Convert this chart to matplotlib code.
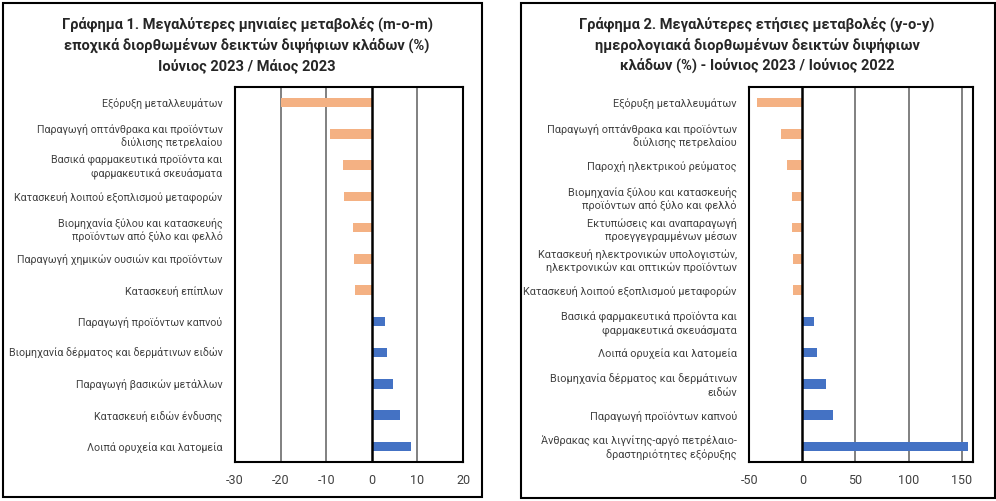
import matplotlib
matplotlib.use("Agg")
import matplotlib.pyplot as plt
from matplotlib.patches import Rectangle

plt.rcParams['font.family'] = ['Roboto', 'DejaVu Sans']

# Chart 1 data (m-o-m)
cats1 = ["Εξόρυξη μεταλλευμάτων",
         "Παραγωγή οπτάνθρακα και προϊόντων\nδιύλισης πετρελαίου",
         "Βασικά φαρμακευτικά προϊόντα και\nφαρμακευτικά σκευάσματα",
         "Κατασκευή λοιπού εξοπλισμού μεταφορών",
         "Βιομηχανία ξύλου και κατασκευής\nπροϊόντων από ξύλο και φελλό",
         "Παραγωγή χημικών ουσιών και προϊόντων",
         "Κατασκευή επίπλων",
         "Παραγωγή προϊόντων καπνού",
         "Βιομηχανία δέρματος και δερμάτινων ειδών",
         "Παραγωγή βασικών μετάλλων",
         "Κατασκευή ειδών ένδυσης",
         "Λοιπά ορυχεία και λατομεία"]
vals1 = [-19.9, -9.1, -6.4, -6.1, -4.2, -4.0, -3.6, 2.9, 3.4, 4.7, 6.2, 8.5]
ticks1 = [-30, -20, -10, 0, 10, 20]
title1 = "Γράφημα 1. Μεγαλύτερες μηνιαίες μεταβολές (m-o-m)\nεποχικά διορθωμένων δεικτών διψήφιων κλάδων (%)\nΙούνιος 2023 / Μάιος 2023"

# Chart 2 data (y-o-y)
cats2 = ["Εξόρυξη μεταλλευμάτων",
         "Παραγωγή οπτάνθρακα και προϊόντων\nδιύλισης πετρελαίου",
         "Παροχή ηλεκτρικού ρεύματος",
         "Βιομηχανία ξύλου και κατασκευής\nπροϊόντων από ξύλο και φελλό",
         "Εκτυπώσεις και αναπαραγωγή\nπροεγγεγραμμένων μέσων",
         "Κατασκευή ηλεκτρονικών υπολογιστών,\nηλεκτρονικών και οπτικών προϊόντων",
         "Κατασκευή λοιπού εξοπλισμού μεταφορών",
         "Βασικά φαρμακευτικά προϊόντα και\nφαρμακευτικά σκευάσματα",
         "Λοιπά ορυχεία και λατομεία",
         "Βιομηχανία δέρματος και δερμάτινων\nειδών",
         "Παραγωγή προϊόντων καπνού",
         "Άνθρακας και λιγνίτης-αργό πετρέλαιο-\nδραστηριότητες εξόρυξης"]
vals2 = [-42.9, -19.8, -14.5, -10.1, -9.9, -8.8, -8.7, 10.7, 13.5, 22.7, 28.9, 156.0]
ticks2 = [-50, 0, 50, 100, 150]
title2 = "Γράφημα 2. Μεγαλύτερες ετήσιες μεταβολές (y-o-y)\nημερολογιακά διορθωμένων δεικτών διψήφιων\nκλάδων (%) - Ιούνιος 2023 / Ιούνιος 2022"

NEG = "#F4B183"
POS = "#4472C4"

W, H = 996, 501
fig = plt.figure(figsize=(W / 100, H / 100), dpi=100)

def fx(px):
    return px / W

def fy(py):
    return 1 - py / H

# outer chart boxes
for (x0, y0, x1, y1) in [(3, 3, 482, 497), (521, 3, 995, 498)]:
    fig.patches.append(Rectangle((fx(x0), fy(y1)), fx(x1 - x0), (y1 - y0) / H,
                                 transform=fig.transFigure, fill=False,
                                 edgecolor="black", linewidth=1.5))

def panel(rect_px, cats, vals, ticks, xlim, title, title_center, lab_fs):
    x0, y0, x1, y1 = rect_px
    ax = fig.add_axes([fx(x0), fy(y1), fx(x1 - x0), (y1 - y0) / H])
    n = len(cats)
    ys = list(range(n))
    colors = [NEG if v < 0 else POS for v in vals]
    ax.barh(ys, vals, height=0.3, color=colors, zorder=3)
    ax.set_ylim(n - 0.5, -0.5)
    ax.set_xlim(*xlim)
    ax.set_xticks(ticks)
    ax.set_xticklabels([str(t) for t in ticks], fontsize=9, color="#404040")
    ax.set_yticks(ys)
    ax.set_yticklabels(cats, fontsize=lab_fs, color="#404040", linespacing=1.3)
    ax.tick_params(axis="both", length=0)
    ax.tick_params(axis="x", pad=9)
    ax.tick_params(axis="y", pad=9)
    for t in ticks:
        if t == 0:
            ax.axvline(0, color="black", linewidth=1.8, zorder=4)
        else:
            ax.axvline(t, color="#808080", linewidth=1.4, zorder=1)
    for s in ax.spines.values():
        s.set_color("black")
        s.set_linewidth(1.5)
    fig.text(fx(title_center), fy(45), title, ha="center", va="center",
             fontsize=10.5, fontweight="bold", color="#262626", linespacing=1.45)
    return ax

panel((235, 87, 463, 462), cats1, vals1, ticks1, (-30, 20), title1, 247, 7.7)
panel((749.3, 87, 973.3, 462), cats2, vals2, ticks2, (-50, 161), title2, 757, 7.8)

fig.savefig("out.png", dpi=100)
